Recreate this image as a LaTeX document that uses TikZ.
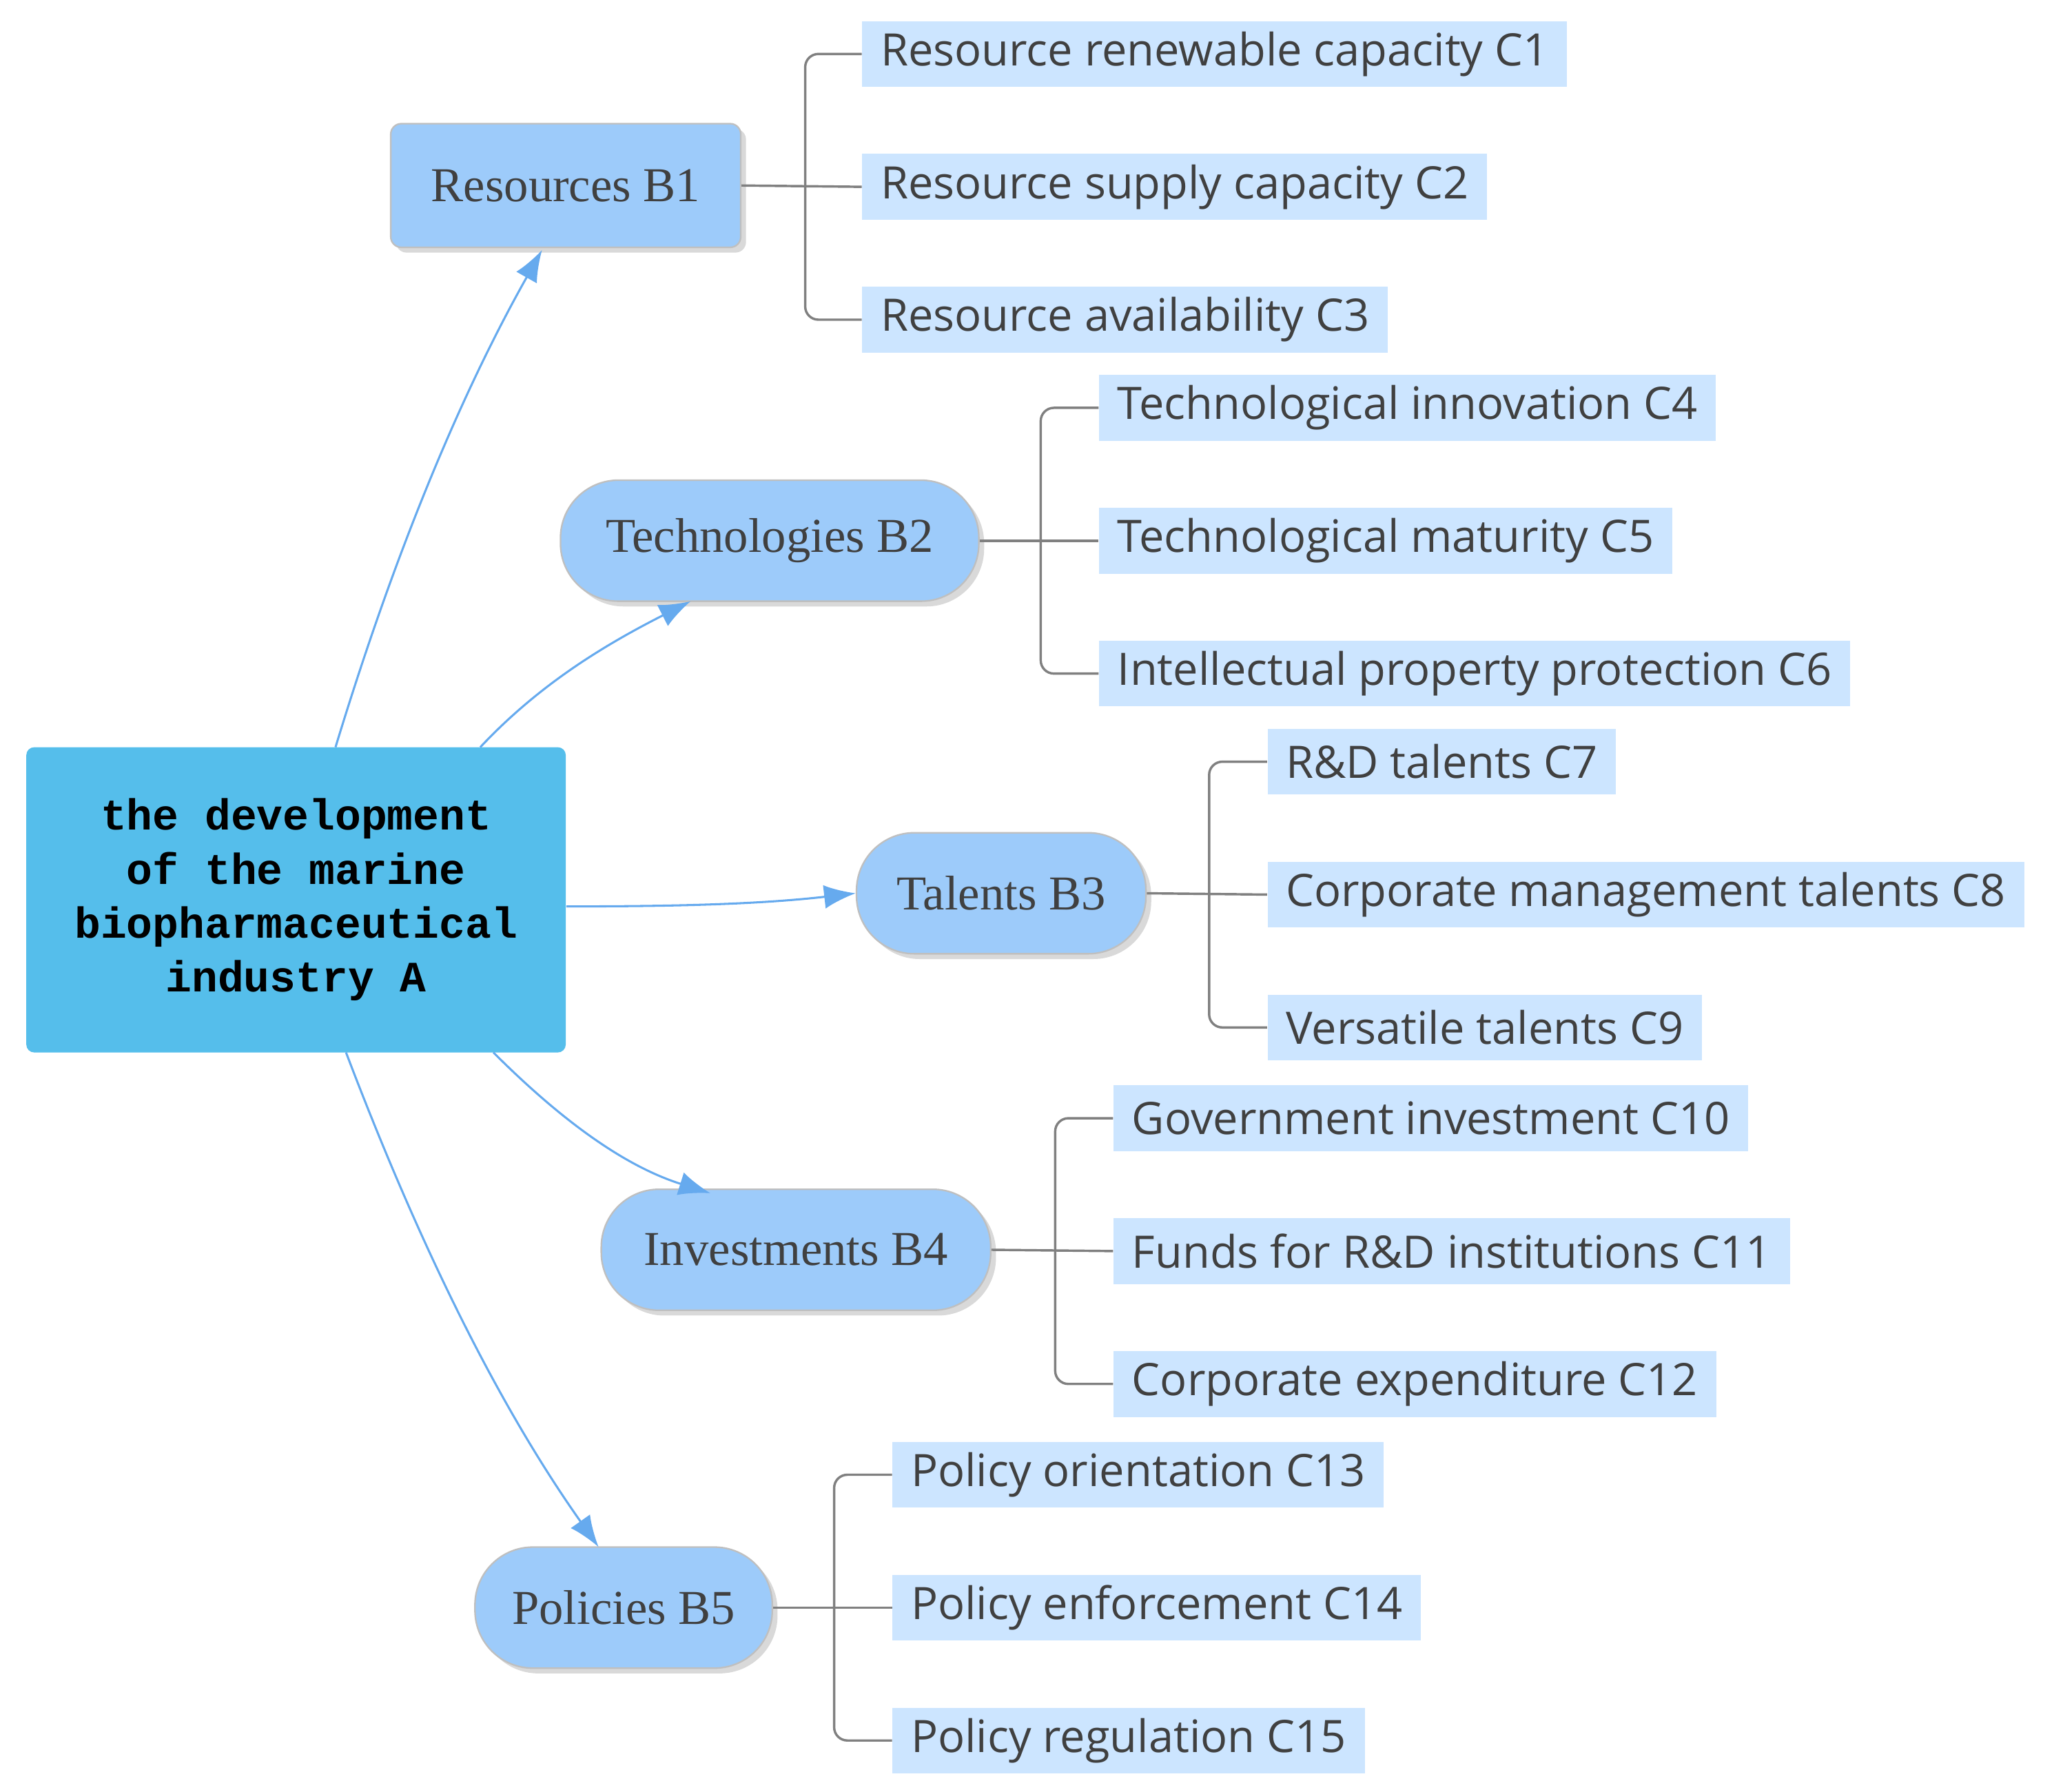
\documentclass[tikz,border=0pt]{standalone}
\usepackage{fontspec}
\setmainfont{Liberation Serif}
\newfontfamily\csans{Open Sans}
\newfontfamily\cmono{Liberation Mono}
\usetikzlibrary{arrows.meta,shadows}
\definecolor{aC}{HTML}{55BEEB}
\definecolor{bC}{HTML}{9DCBFA}
\definecolor{cC}{HTML}{CCE5FF}
\definecolor{arC}{HTML}{66AAEE}
\definecolor{lnC}{HTML}{808080}
\definecolor{tx}{HTML}{404040}
\begin{document}
\begin{tikzpicture}[x=0.5pt,y=-0.5pt,
 bnode/.style={fill=bC,draw=gray!50,line width=0.6pt,rounded corners=22pt,minimum height=46pt,font=\fontsize{18.5}{20}\selectfont,text=tx,drop shadow={shadow xshift=2pt,shadow yshift=-2pt,opacity=0.3}},
 cnode/.style={fill=cC,anchor=west,minimum height=25pt,inner xsep=7pt,font=\csans\fontsize{17}{20}\selectfont,text=tx},
 arr/.style={draw=arC,line width=0.8pt,-{Latex[length=12pt,width=9pt]}},
 br/.style={draw=lnC,line width=0.9pt,rounded corners=5pt}]
\useasboundingbox (0,0) rectangle (1568,1362);
\node[fill=aC,rounded corners=3pt,minimum width=205pt,minimum height=116pt,align=center,font=\cmono\bfseries\fontsize{16.5}{20.5}\selectfont] (A) at (225,684) {the development\\of the marine\\biopharmaceutical\\industry A};
\node[bnode,rounded corners=4pt,minimum width=133pt,minimum height=47pt,drop shadow={opacity=0}] (B1) at (430,141) {Resources B1};
\node[bnode,minimum width=159pt] (B2) at (585,411) {Technologies B2};
\node[bnode,minimum width=110pt] (B3) at (761,679) {Talents B3};
\node[bnode,minimum width=148pt] (B4) at (605,950) {Investments B4};
\node[bnode,minimum width=113pt] (B5) at (474,1222) {Policies B5};
\foreach \n/\x/\y/\t in {1/655/41/Resource renewable capacity C1,2/655/142/Resource supply capacity C2,3/655/243/Resource availability C3,
4/835/310/Technological innovation C4,5/835/411/Technological maturity C5,6/835/512/Intellectual property protection C6,
7/963/579/R\&D talents C7,8/963/680/Corporate management talents C8,9/963/781/Versatile talents C9,
10/846/850/Government investment C10,11/846/951/Funds for R\&D institutions C11,12/846/1052/Corporate expenditure C12,
13/678/1121/Policy orientation C13,14/678/1222/Policy enforcement C14,15/678/1323/Policy regulation C15}
 {\node[cnode] (C\n) at (\x,\y) {\t};}
\foreach \b/\i/\j/\k/\vx in {B1/1/2/3/612,B2/4/5/6/791,B3/7/8/9/919,B4/10/11/12/802,B5/13/14/15/634}{
 \draw[br] (C\i.west) -| (\vx,0 |- C\j.west) |- (C\k.west);
 \draw[br] (\b.east) -- (C\j.west);
}
\coordinate (a1) at (255,568); \coordinate (a2) at (365,568);
\coordinate (a4) at (375,800); \coordinate (a5) at (263,800);
\coordinate (b1) at (412,190); \coordinate (b2) at (525,457);
\coordinate (b4) at (540,907); \coordinate (b5) at (455,1176);
\draw[arr] (a1) .. controls (300,420) and (350,300) .. (b1);
\draw[arr] (a2) .. controls (410,520) and (460,490) .. (b2);
\draw[arr] (A.east |- 0,689) .. controls (520,689) and (580,687) .. (B3.west);
\draw[arr] (a4) .. controls (420,845) and (470,885) .. (b4);
\draw[arr] (a5) .. controls (320,950) and (380,1070) .. (b5);
\end{tikzpicture}
\end{document}
